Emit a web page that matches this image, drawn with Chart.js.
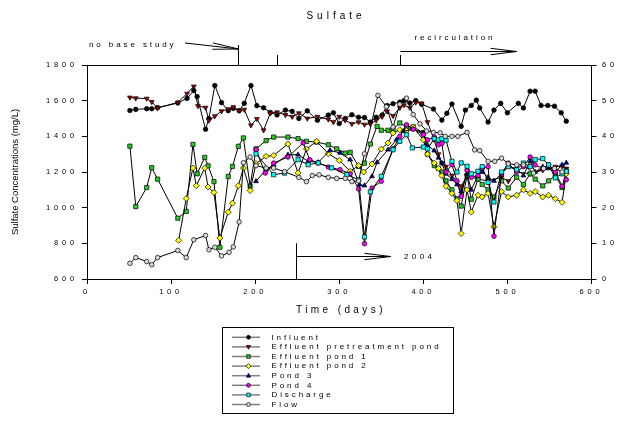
<!DOCTYPE html>
<html>
<head>
<meta charset="utf-8">
<title>Sulfate</title>
<script src="https://cdn.jsdelivr.net/npm/chart.js@4.4.1/dist/chart.umd.min.js"></script>
<style>
  html, body { margin: 0; padding: 0; background: #fff; }
  #wrap { width: 626px; height: 423px; }
</style>
</head>
<body>
<div id="wrap"><canvas id="chart" width="626" height="423"></canvas></div>
<script>
// series labels (legend order)
var seriesNames = ["Influent", "Effluent pretreatment pond", "Effluent pond 1", "Effluent pond 2",
                   "Pond 3", "Pond 4", "Discharge", "Flow"];

// sulfate, mg/L (left axis) -- days since start
var influentDays = [51,58,71,77,84,108,119,127,131,141,145,152,160,168,174,181,187,195,202,210,218,226,236,244,252,262,274,287,293,300,307,315,323,330,337,344,351,357,364,372,377,384,391,398,412,422,428,434,445,450,457,463,467,477,484,492,500,513,519,527,533,540,548,556,564,570];
var influentVals = [1545,1551,1555,1555,1561,1587,1613,1657,1623,1440,1500,1685,1589,1544,1557,1544,1585,1685,1572,1560,1534,1520,1547,1540,1500,1543,1490,1519,1532,1472,1500,1521,1507,1505,1480,1507,1520,1573,1583,1592,1600,1587,1600,1580,1553,1491,1529,1581,1456,1547,1573,1603,1559,1480,1547,1585,1532,1585,1559,1653,1653,1573,1573,1569,1532,1485];

var pretreatDays = [51,58,71,77,84,108,119,127,132,141,145,152,160,168,174,181,187,195,202,210,218,226,236,244,252,262,274,287,293,300,307,315,323,330,337,344,351,357,364,372,377,384,391,398,405,413,418,422,427,434,445,452,465,477,493,501,511,527,542,557,565,570];
var pretreatVals = [1618,1614,1612,1593,1559,1590,1640,1680,1570,1561,1489,1513,1541,1553,1564,1544,1550,1462,1498,1434,1530,1535,1520,1510,1530,1500,1510,1495,1480,1510,1490,1470,1480,1466,1470,1490,1510,1540,1515,1560,1575,1560,1590,1585,1480,1380,1300,1250,1230,1180,1120,1180,1160,1150,1170,1149,1200,1190,1210,1230,1232,1220];

var pond1Days = [51,58,71,77,84,108,118,126,131,140,144,151,158,168,173,180,186,194,201,213,222,239,251,261,273,287,297,307,313,323,330,337,345,350,358,364,372,380,388,400,405,413,418,422,427,434,440,445,452,457,465,470,477,484,493,501,511,519,527,533,542,549,557,565,570];
var pond1Vals = [1345,1006,1113,1224,1160,941,979,1355,1190,1282,1235,1146,778,1175,1231,1344,1391,1120,1330,1376,1396,1396,1387,1372,1368,1353,1330,1306,1310,1232,1250,1357,1456,1434,1434,1440,1475,1453,1453,1420,1300,1236,1220,1200,1150,1100,1050,1009,1180,1047,1160,1130,1100,1060,1150,1110,1170,1130,1190,1160,1122,1150,1180,1113,1207];

var pond2Days = [109,118,126,130,140,144,151,158,168,173,180,186,194,201,213,222,239,251,261,273,287,300,313,323,329,339,350,358,364,372,380,388,400,405,413,418,422,427,434,440,445,452,457,465,470,477,484,493,501,511,519,527,533,542,549,557,565,570];
var pond2Vals = [817,1051,1222,1123,1222,1116,1085,830,975,1025,1123,1222,1096,1247,1288,1293,1357,1195,1329,1372,1303,1265,1204,1236,1200,1245,1329,1363,1419,1437,1432,1452,1380,1300,1250,1220,1180,1120,1080,1040,855,1100,976,1070,1060,1080,893,1090,1060,1070,1100,1080,1090,1060,1070,1050,1030,1190];

var pond3Days = [201,213,222,239,251,263,275,289,301,313,324,330,339,345,358,368,376,388,400,405,413,418,422,427,434,440,445,452,457,465,470,477,484,493,501,511,519,527,533,542,549,557,565,570];
var pond3Vals = [1148,1213,1240,1297,1297,1260,1254,1321,1307,1269,1129,1124,1176,1254,1325,1381,1428,1440,1420,1350,1320,1280,1250,1190,1160,1130,1090,1190,1100,1180,1200,1170,1150,1190,1230,1220,1180,1260,1200,1230,1220,1200,1240,1251];

var pond4Days = [201,212,222,239,257,265,275,287,301,313,323,330,339,350,364,372,380,388,400,405,413,418,422,427,434,440,445,452,457,465,470,477,484,493,501,511,519,527,533,542,549,557,565,570];
var pond4Vals = [1325,1194,1250,1284,1363,1269,1251,1228,1213,1190,1105,798,1110,1148,1330,1400,1465,1440,1410,1380,1396,1353,1360,1200,1241,1150,1064,1210,1170,1180,1220,1230,840,1190,1250,1200,1230,1284,1240,1220,1240,1200,1120,1157];

var dischargeDays = [201,222,235,251,263,275,291,309,323,330,337,350,364,372,380,387,400,405,413,418,422,427,434,440,445,452,457,465,470,477,484,493,501,511,519,527,533,542,549,557,565,570];
var dischargeVals = [1302,1185,1194,1269,1241,1251,1223,1185,1157,836,1089,1176,1325,1372,1409,1335,1340,1330,1387,1380,1387,1378,1260,1200,1251,1232,1190,1204,1230,1142,1032,1200,1230,1213,1250,1230,1270,1275,1240,1167,1190,1204];

// flow (right axis)
var flowDays = [51,58,71,77,84,108,118,127,141,145,152,160,169,174,181,186,194,201,213,222,235,252,261,268,276,287,297,307,315,323,330,346,356,364,372,380,388,396,404,412,420,426,434,441,452,461,467,477,485,493,501,511,519,531,543,556,565];
var flowVals = [4.4,6.0,4.9,4.0,6.0,8.0,6.0,11.0,12.2,8.2,8.9,6.5,7.5,9.0,16,32.6,34.2,31.8,31.1,31.1,30.1,28.5,27.3,29.0,29.2,28.5,28.2,28.2,27.3,27.5,35.1,51.5,48.3,42.6,49,50.7,46.1,43.5,41.5,41.1,41,40,40,40,41.1,36.2,36,33,33,33.9,32.3,32,32,29.7,31,31,30];

// axis ticks
var xTicks = [0, 100, 200, 300, 400, 500, 600];
var yTicks = [600, 800, 1000, 1200, 1400, 1600, 1800];
var y2Ticks = [0, 10, 20, 30, 40, 50, 60];

var FONT = "'Liberation Sans', Arial, sans-serif";

function pts(days, vals) {
    return days.map(function (d, i) { return { x: d, y: vals[i] }; });
}

// marker look per series: [pointStyle, fill, radius, rotation]
var markers = [
    ["circle",   "#000000", 2.3, 0],
    ["triangle", "#a00000", 2.8, 180],
    ["rect",     "#22cc22", 3.0, 0],
    ["rectRot",  "#ffff00", 3.0, 0],
    ["triangle", "#0000a0", 2.8, 0],
    ["circle",   "#ff00ff", 2.3, 0],
    ["rect",     "#00ffff", 3.0, 0],
    ["circle",   "#d8d8d8", 2.3, 0]
];

var seriesData = [
    pts(influentDays, influentVals),
    pts(pretreatDays, pretreatVals),
    pts(pond1Days, pond1Vals),
    pts(pond2Days, pond2Vals),
    pts(pond3Days, pond3Vals),
    pts(pond4Days, pond4Vals),
    pts(dischargeDays, dischargeVals),
    pts(flowDays, flowVals)
];

var datasets = seriesNames.map(function (name, i) {
    var m = markers[i];
    return {
        label: name,
        data: seriesData[i],
        yAxisID: i === 7 ? "y2" : "y",
        borderColor: "#000",
        borderWidth: 1,
        pointStyle: m[0],
        pointBackgroundColor: m[1],
        pointBorderColor: "#000",
        pointBorderWidth: 0.7,
        pointRadius: m[2],
        pointRotation: m[3],
        tension: 0,
        fill: false,
        order: 7 - i
    };
});

// small marker painter for the legend
function drawMarker(ctx, i, x, y) {
    var m = markers[i], r = m[2] * 0.85;
    ctx.save();
    ctx.fillStyle = m[1];
    ctx.strokeStyle = "#000";
    ctx.lineWidth = 0.7;
    ctx.beginPath();
    if (m[0] === "circle") {
        ctx.arc(x, y, r, 0, Math.PI * 2);
    } else if (m[0] === "rect") {
        var s = r * Math.SQRT1_2;
        ctx.rect(x - s, y - s, 2 * s, 2 * s);
    } else if (m[0] === "rectRot") {
        ctx.moveTo(x, y - r); ctx.lineTo(x + r, y); ctx.lineTo(x, y + r); ctx.lineTo(x - r, y); ctx.closePath();
    } else {
        var dir = m[3] === 180 ? -1 : 1;
        ctx.moveTo(x, y - dir * r);
        ctx.lineTo(x + r * 0.9, y + dir * r * 0.6);
        ctx.lineTo(x - r * 0.9, y + dir * r * 0.6);
        ctx.closePath();
    }
    ctx.fill();
    ctx.stroke();
    ctx.restore();
}

// spaced text: align 'left' or 'center'
function spacedText(ctx, s, x, y, size, sp, align) {
    ctx.save();
    ctx.font = size + "px " + FONT;
    ctx.letterSpacing = sp + "px";
    ctx.fillStyle = "#000";
    ctx.textBaseline = "middle";
    ctx.textAlign = "left";
    var w = ctx.measureText(s).width - sp;
    ctx.fillText(s, align === "center" ? x - w / 2 : x, y);
    ctx.restore();
}

function line(ctx, x1, y1, x2, y2) {
    ctx.beginPath(); ctx.moveTo(x1, y1); ctx.lineTo(x2, y2); ctx.stroke();
}

function arrow(ctx, x1, y1, x2, y2) {
    var a = Math.atan2(y2 - y1, x2 - x1), L = 26, h = 3.2;
    line(ctx, x1, y1, x2, y2);
    var bx = x2 - L * Math.cos(a), by = y2 - L * Math.sin(a);
    line(ctx, bx - h * Math.sin(a), by + h * Math.cos(a), x2, y2);
    line(ctx, bx + h * Math.sin(a), by - h * Math.cos(a), x2, y2);
}

var decor = {
    id: "decor",
    beforeDraw: function (chart) {
        chart.ctx.letterSpacing = "3.8px";
    },
    afterDraw: function (chart) {
        var ctx = chart.ctx, a = chart.chartArea;
        var xs = chart.scales.x, ys = chart.scales.y;
        ctx.save();
        ctx.letterSpacing = "0px";
        ctx.strokeStyle = "#000";
        ctx.lineWidth = 1;
        // top frame line
        line(ctx, a.left, Math.round(a.top) + 0.5, a.right, Math.round(a.top) + 0.5);

        spacedText(ctx, "Sulfate", 334, 16, 10, 4, "center");
        spacedText(ctx, "Time (days)", (a.left + a.right) / 2, 310, 10, 3.4, "center");

        // y axis title
        ctx.save();
        ctx.translate(15, (a.top + a.bottom) / 2);
        ctx.rotate(-Math.PI / 2);
        ctx.font = "9.5px " + FONT;
        ctx.fillStyle = "#000";
        ctx.textAlign = "center";
        ctx.textBaseline = "middle";
        ctx.fillText("Sulfate Concentrations (mg/L)", 0, 0);
        ctx.restore();

        // period markers above the plot
        var v1 = Math.round(xs.getPixelForValue(180)) + 0.5;
        var v2 = Math.round(xs.getPixelForValue(225.5)) + 0.5;
        var v3 = Math.round(xs.getPixelForValue(372)) + 0.5;
        line(ctx, v1, 45, v1, a.top);
        line(ctx, v2, 55, v2, a.top);
        line(ctx, v3, 55, v3, a.top);
        spacedText(ctx, "no base study", 89, 45, 8, 2.9, "left");
        arrow(ctx, 185, 43, v1, 49);
        spacedText(ctx, "recirculation", 414.5, 37.5, 8, 2.9, "left");
        arrow(ctx, v3, 51.5, xs.getPixelForValue(511), 51.5);

        // 2004 marker
        var v4 = Math.round(xs.getPixelForValue(248)) + 0.5;
        line(ctx, v4, ys.getPixelForValue(800), v4, a.bottom);
        arrow(ctx, v4, 256.5, xs.getPixelForValue(361), 256.5);
        spacedText(ctx, "2004", 404, 256.5, 8, 3.4, "left");

        // legend
        var lx = 222.5, ly = 327.5, lw = 231, lh = 86;
        ctx.strokeRect(lx, ly, lw, lh);
        seriesNames.forEach(function (name, i) {
            var y = 337.3 + i * 9.6;
            ctx.save();
            ctx.strokeStyle = "#808080";
            ctx.lineWidth = 1.5;
            line(ctx, 232, y, 260, y);
            ctx.restore();
            drawMarker(ctx, i, 248.5, y);
            spacedText(ctx, name, 271.5, y, 8, 2.9, "left");
        });
        ctx.restore();
    }
};

function axisLook(min, max, step, pos) {
    return {
        type: "linear",
        position: pos,
        min: min,
        max: max,
        ticks: {
            stepSize: step,
            color: "#000",
            font: { family: FONT, size: 7.5 },
            padding: pos === "bottom" ? 3 : (pos === "right" ? 5.5 : 4),
            callback: function (v) { return String(v); }
        },
        grid: {
            display: true,
            drawOnChartArea: false,
            drawTicks: true,
            tickLength: 5,
            color: "#000",
            lineWidth: 1
        },
        border: { display: true, color: "#000", width: 1 }
    };
}

var xAxis = axisLook(xTicks[0], xTicks[xTicks.length - 1], 100, "bottom");
xAxis.afterFit = function (s) { s.height = 144; };
var yAxis = axisLook(yTicks[0], yTicks[yTicks.length - 1], 200, "left");
yAxis.afterFit = function (s) { s.width = 87; };
var y2Axis = axisLook(y2Ticks[0], y2Ticks[y2Ticks.length - 1], 10, "right");
y2Axis.afterFit = function (s) { s.width = 34.5; };

new Chart(document.getElementById("chart"), {
    type: "line",
    data: { datasets: datasets },
    options: {
        responsive: false,
        animation: false,
        layout: { padding: { top: 65, left: 0, right: 0, bottom: 0 } },
        scales: { x: xAxis, y: yAxis, y2: y2Axis },
        plugins: {
            legend: { display: false },
            title: { display: false },
            tooltip: { enabled: false }
        }
    },
    plugins: [decor]
});
</script>
</body>
</html>
